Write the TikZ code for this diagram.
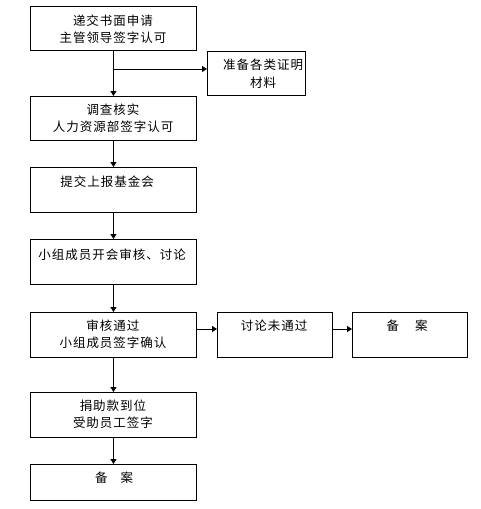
\documentclass[tikz,border=0pt]{standalone}
\usepackage{fontspec}
\newfontfamily\cjk[LetterSpace=8]{Noto Sans CJK SC}
\usetikzlibrary{arrows.meta}
\begin{document}
\begin{tikzpicture}[x=1pt,y=-1pt,
  box/.style={draw,line width=0.9pt,minimum width=166pt,minimum height=44pt,inner sep=0pt,anchor=north west},
  sbox/.style={draw,line width=0.9pt,minimum width=115pt,minimum height=45pt,inner sep=0pt,anchor=north west},
  txt/.style={font=\cjk\fontsize{12.5}{17.5}\selectfont,align=center,inner sep=0pt},
  conn/.style={line width=0.9pt,-{Triangle[length=5pt,width=6pt]}}]
\useasboundingbox (0,0) rectangle (480,509);
% boxes
\node[box] (b1) at (30,6) {};
\node[draw,line width=0.9pt,minimum width=98pt,minimum height=44pt,inner sep=0pt,anchor=north west] (side) at (207,51) {};
\node[box] (b2) at (30,96) {};
\node[box,minimum height=45pt] (b3) at (30,167) {};
\node[box,minimum height=45pt] (b4) at (30,239) {};
\node[box,minimum height=45pt] (b5) at (30,312) {};
\node[sbox] (b6) at (217,312) {};
\node[sbox,minimum width=115pt] (b7) at (352,312) {};
\node[box,minimum height=45pt] (b8) at (30,392) {};
\node[box,minimum height=36pt] (b9) at (30,464) {};
% texts
\node[txt] (t1) at (113,29) {递交书面申请\\主管领导签字认可};
\node[txt] (ts) at (263,73.5) {准备各类证明\\材料};
\node[txt] (t2) at (113,118) {调查核实\\人力资源部签字认可};
\node[txt] (t3) at (107,182) {提交上报基金会};
\node[txt] (t4) at (112,255) {小组成员开会审核、讨论};
\node[txt] (t5) at (113,334) {审核通过\\小组成员签字确认};
\node[txt] (t6) at (274,326) {讨论未通过};
\node[txt] (t7) at (407,326) {备\hspace{16pt}案};
\node[txt] (t8) at (113,414) {捐助款到位\\受助员工签字};
\node[txt] (t9) at (114,478) {备\hspace{13pt}案};
% connectors
\coordinate (br) at (113,69);
\draw[conn] (b1.south) -- (b2.north);
\draw[conn] (br) -- (side.west |- br);
\draw[conn] (b2.south) -- (b3.north);
\draw[conn] (b3.south) -- (b4.north);
\draw[conn] (b4.south) -- (b5.north);
\coordinate (r1) at (196,329);
\draw[conn] (r1) -- (b6.west |- r1);
\draw[conn] (b6.east |- r1) -- (b7.west |- r1);
\draw[conn] (b5.south) -- (b8.north);
\draw[conn] (b8.south) -- (b9.north);
\end{tikzpicture}
\end{document}
